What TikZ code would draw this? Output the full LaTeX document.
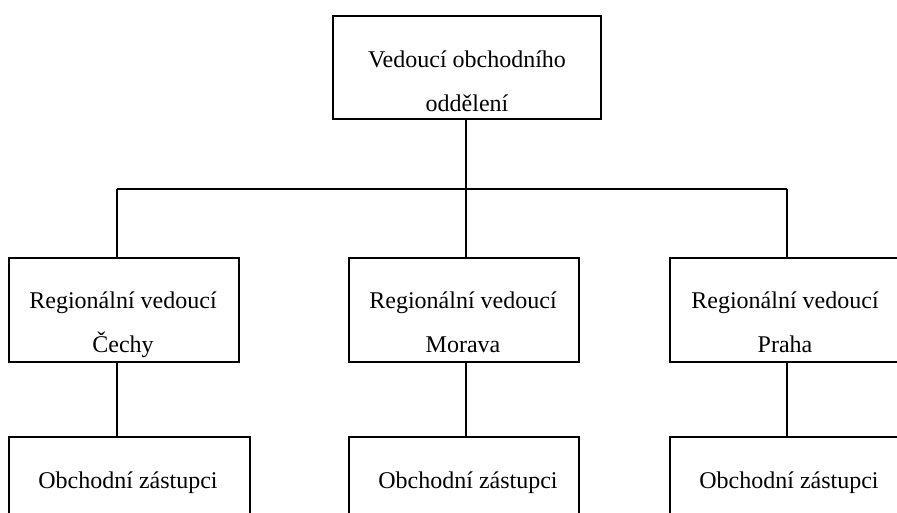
\documentclass[tikz,border=0pt]{standalone}
\usepackage{fontspec}
\setmainfont{Liberation Serif}
\begin{document}
\begin{tikzpicture}[x=1pt,y=-1pt,
  box/.style={draw, line width=1.7pt, inner sep=0pt, anchor=north west},
  lbl/.style={anchor=base, inner sep=0pt, font=\fontsize{24}{28}\selectfont},
  conn/.style={line width=1.6pt}]
\useasboundingbox (0,0) rectangle (897,513);
\clip (0,0) rectangle (897,513);
\fill[white] (0,0) rectangle (897,513);

% boxes
\node[box, minimum width=268pt, minimum height=103pt] (top) at (332,15) {};
\node[box, minimum width=230pt, minimum height=104pt] (r1) at (8,257) {};
\node[box, minimum width=230pt, minimum height=104pt] (r2) at (348,257) {};
\node[box, minimum width=234pt, minimum height=104pt] (r3) at (669,257) {};
\node[box, minimum width=241pt, minimum height=110pt] (b1) at (8,436) {};
\node[box, minimum width=230pt, minimum height=110pt] (b2) at (348,436) {};
\node[box, minimum width=240pt, minimum height=110pt] (b3) at (669,436) {};

% texts
\node[lbl] (t1) at (467,68) {Vedoucí obchodního};
\node[lbl] (t2) at (467,112) {oddělení};
\node[lbl] (r1a) at (123,308) {Regionální vedoucí};
\node[lbl] (r1b) at (123,352) {Čechy};
\node[lbl] (r2a) at (463,308) {Regionální vedoucí};
\node[lbl] (r2b) at (463,352) {Morava};
\node[lbl] (r3a) at (785,308) {Regionální vedoucí};
\node[lbl] (r3b) at (785,352) {Praha};
\node[lbl] (b1a) at (128,488) {Obchodní zástupci};
\node[lbl] (b2a) at (468,488) {Obchodní zástupci};
\node[lbl] (b3a) at (789,488) {Obchodní zástupci};

% connectors
\coordinate (barL) at (117,189);
\coordinate (barM) at (466,189);
\coordinate (barR) at (787,189);
\draw[conn] (top.south -| barM) -- (barM);
\draw[conn] (barL) -- (barR);
\draw[conn] (barL) -- (barL |- r1.north);
\draw[conn] (barM) -- (barM |- r2.north);
\draw[conn] (barR) -- (barR |- r3.north);
\draw[conn] (r1.south -| barL) -- (b1.north -| barL);
\draw[conn] (r2.south -| barM) -- (b2.north -| barM);
\draw[conn] (r3.south -| barR) -- (b3.north -| barR);
\end{tikzpicture}
\end{document}
